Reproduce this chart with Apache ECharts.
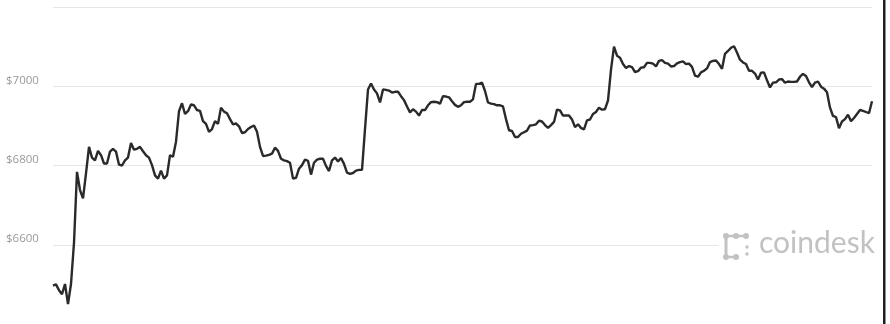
<!DOCTYPE html>
<html>
<head>
<meta charset="utf-8">
<script src="https://cdn.jsdelivr.net/npm/echarts@6/dist/echarts.min.js"></script>
<style>
html,body{margin:0;padding:0;background:#fff;}
#c{width:890px;height:324px;}
</style>
</head>
<body>
<div id="c"></div>
<script>
// Price series (USD), evenly spaced in time
const prices = [
6497,6500,6485,6475,6501,6450,6501,6605,6784,6738,6717,6780,6847,6820,6813,6837,6826,6805,6805,6835,
6842,6835,6802,6800,6813,6820,6857,6840,6842,6847,6836,6826,6820,6801,6775,6767,6787,6767,6775,6826,
6822,6860,6937,6957,6930,6937,6954,6952,6940,6938,6912,6905,6885,6892,6912,6905,6946,6936,6932,6917,
6904,6906,6899,6882,6884,6892,6897,6901,6885,6847,6824,6825,6827,6830,6845,6837,6817,6813,6811,6807,
6767,6769,6792,6801,6815,6812,6777,6807,6815,6817,6817,6799,6786,6813,6820,6810,6819,6804,6782,6779,
6781,6787,6789,6789,6892,6992,7007,6992,6982,6959,6992,6991,6989,6984,6986,6986,6975,6965,6949,6934,
6942,6936,6926,6940,6940,6952,6960,6961,6960,6956,6975,6974,6972,6962,6953,6948,6952,6960,6961,6961,
6967,7006,7006,7009,6988,6959,6956,6955,6952,6952,6949,6917,6889,6887,6872,6872,6880,6884,6888,6901,
6902,6904,6913,6911,6902,6895,6902,6910,6941,6939,6926,6926,6926,6916,6897,6904,6895,6891,6914,6916,
6930,6935,6946,6941,6942,6964,7042,7100,7077,7072,7056,7046,7051,7048,7036,7038,7047,7048,7059,7059,
7057,7050,7064,7066,7059,7057,7050,7051,7058,7061,7063,7056,7057,7049,7027,7024,7035,7039,7045,7061,
7064,7065,7056,7044,7082,7089,7097,7101,7085,7067,7060,7056,7039,7039,7032,7017,7034,7035,7015,6997,
7009,7010,7017,7018,7009,7012,7011,7011,7012,7024,7031,7026,7010,6998,7009,7012,6999,6994,6985,6946,
6925,6922,6894,6911,6917,6928,6912,6920,6930,6940,6938,6935,6932,6962
];
const categories = prices.map((_, i) => String(i));
const yTickLabels = [6600, 6800, 7000];
const yMin = 6400, yMax = 7200, yStep = 200;
const brandText = 'coindesk';

const chart = echarts.init(document.getElementById('c'), null, {renderer: 'canvas'});
const logoColor = '#c2c2c2';
const dot = (cx, cy, r) => ({type: 'circle', z: 20, shape: {cx, cy, r}, style: {fill: logoColor}});
const seg = (x1, y1, x2, y2, w) => ({type: 'line', z: 20, shape: {x1, y1, x2, y2}, style: {stroke: logoColor, lineWidth: w}});
chart.setOption({
  animation: false,
  backgroundColor: '#ffffff',
  grid: {left: 53, right: 18, top: 7, bottom: -3, containLabel: false},
  xAxis: {
    type: 'category', data: categories, boundaryGap: false,
    axisLine: {show: false}, axisTick: {show: false}, axisLabel: {show: false}, splitLine: {show: false}
  },
  yAxis: {
    type: 'value', min: yMin, max: yMax, interval: yStep,
    axisLine: {show: false}, axisTick: {show: false},
    splitLine: {show: true, lineStyle: {color: '#e6e6e6', width: 1}},
    axisLabel: {
      show: true, align: 'left', verticalAlign: 'bottom', margin: 47,
      color: '#999999', fontSize: 11.5, fontFamily: 'Open Sans',
      formatter: v => yTickLabels.indexOf(v) >= 0 ? '$' + v : ''
    }
  },
  series: [{
    type: 'line', data: prices, showSymbol: false, symbol: 'none',
    lineStyle: {color: '#2a2a2a', width: 2.4}, z: 2
  }],
  graphic: [
    {type: 'rect', z: 10, shape: {x: 719, y: 229, width: 158, height: 34}, style: {fill: '#ffffff'}},
    seg(726, 236, 746, 236, 2.5),
    seg(726, 236, 726, 257, 3),
    seg(726, 257, 736, 257, 2.5),
    dot(726, 236, 3), dot(736, 236, 3), dot(746, 236, 3),
    dot(726, 257, 3), dot(736, 257, 3),
    dot(747, 247, 1.7), dot(747, 254, 1.7),
    {type: 'text', z: 20, x: 759, y: 258,
      style: {text: brandText, fill: logoColor, font: 'normal 30px Lato', textVerticalAlign: 'bottom'}},
    {type: 'rect', z: 30, shape: {x: 883, y: 0, width: 2.5, height: 324}, style: {fill: '#1e1e1e'}}
  ]
});
</script>
</body>
</html>
